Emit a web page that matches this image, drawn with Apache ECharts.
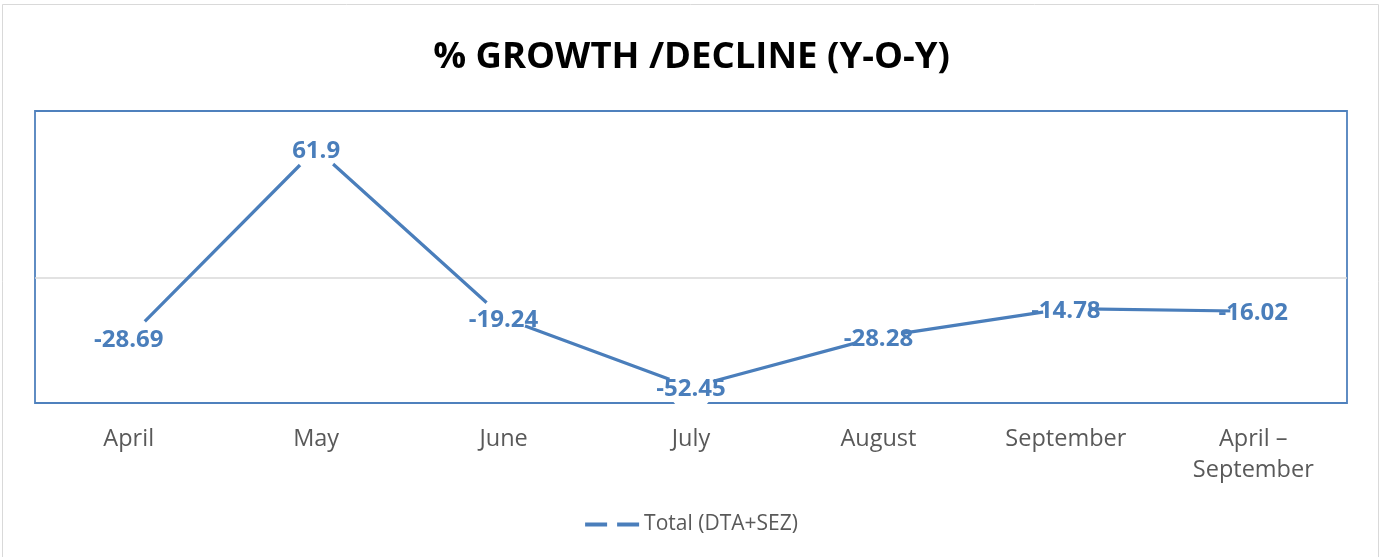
<!DOCTYPE html>
<html><head><meta charset="utf-8">
<script src="https://cdn.jsdelivr.net/npm/echarts@6/dist/echarts.min.js"></script>
<style>html,body{margin:0;padding:0;background:#fff}#c{width:1383px;height:557px}</style>
</head><body><div id="c"></div>
<script>
const categories = ['April', 'May', 'June', 'July', 'August', 'September', 'April –\nSeptember'];
const seriesName = 'Total (DTA+SEZ)';
const values = [-28.69, 61.9, -19.24, -52.45, -28.28, -14.78, -16.02];
const yMin = -60, yMax = 80;

const blue = '#4A7EBB';
const chart = echarts.init(document.getElementById('c'), null, {renderer: 'canvas'});
chart.setOption({
  backgroundColor: '#fff',
  animation: false,
  title: {
    text: '% GROWTH /DECLINE (Y-O-Y)',
    left: 'center', top: 34,
    textStyle: {fontFamily: 'Open Sans', fontWeight: 'bold', fontSize: 36.5, color: '#000'}
  },
  graphic: [{
    type: 'rect', silent: true, z: -1,
    shape: {x: 2.5, y: 4.5, width: 1376, height: 570},
    style: {fill: 'none', stroke: '#D9D9D9', lineWidth: 1}
  }],
  legend: {
    bottom: 17, left: 'center',
    itemWidth: 54, itemHeight: 4, itemGap: 8,
    textStyle: {fontFamily: 'Open Sans', fontSize: 21, color: '#595959'},
    data: [{name: seriesName, icon: 'path://M0,0h22v4h-22z M32,0h22v4h-22z', itemStyle: {color: blue}}]
  },
  grid: {
    left: 35, right: 36, top: 111, bottom: 154,
    show: true, borderColor: '#4F81BD', borderWidth: 1.8, backgroundColor: 'transparent'
  },
  xAxis: {
    type: 'category', data: categories, boundaryGap: true,
    axisLine: {show: false}, axisTick: {show: false}, splitLine: {show: false},
    axisLabel: {fontFamily: 'Open Sans', fontSize: 23.5, color: '#595959', lineHeight: 31, margin: 21, interval: 0}
  },
  yAxis: {
    type: 'value', min: yMin, max: yMax,
    axisLine: {show: false}, axisTick: {show: false}, axisLabel: {show: false},
    splitLine: {show: false}
  },
  series: [{
    name: seriesName, type: 'line', data: values,
    lineStyle: {color: blue, width: 3.2},
    symbol: 'circle', symbolSize: 46, showAllSymbol: true,
    itemStyle: {color: '#fff', borderWidth: 0},
    label: {
      show: true, position: 'inside', offset: [0, 2],
      fontFamily: 'Open Sans', fontWeight: 'bold', fontSize: 24, color: blue
    },
    emphasis: {disabled: true},
    markLine: {
      silent: true, symbol: 'none', label: {show: false},
      lineStyle: {color: '#D9D9D9', width: 1.5, type: 'solid'},
      data: [{yAxis: 0}], z: 1
    },
    z: 3
  }]
});
</script></body></html>
